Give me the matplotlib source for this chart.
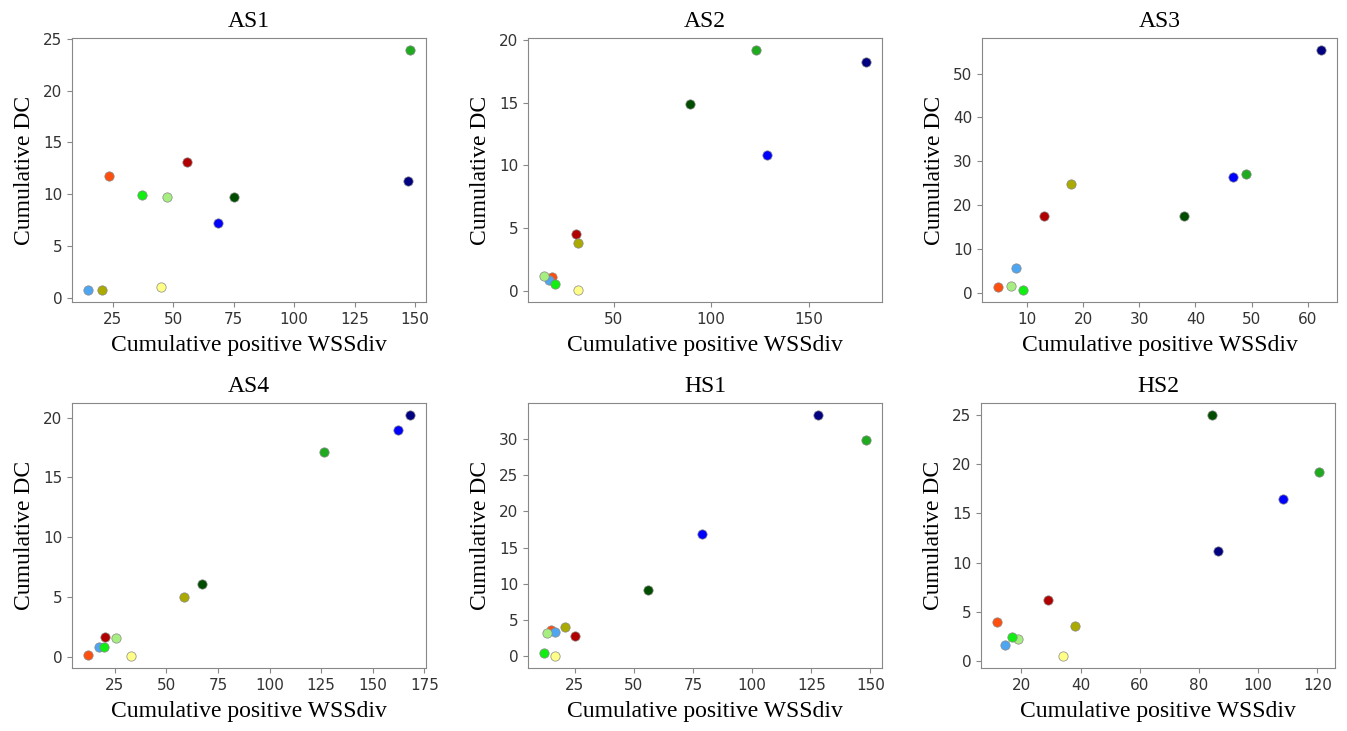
import numpy as np
import matplotlib
matplotlib.use("Agg")
import matplotlib.pyplot as plt

# one colour per case, same order in every panel
series_names = ["orange", "darkred", "olive", "paleyellow", "lightblue",
                "palegreen", "lime", "blue", "darkgreen", "navy", "green"]
series_colors = ["#ff4f0f", "#b00000", "#aaaa00", "#ffff88", "#4ea6f2",
                 "#a6ee80", "#11ee11", "#0000ff", "#004d00", "#000080", "#1faa1f"]

panel_titles = ["AS1", "AS2", "AS3", "AS4", "HS1", "HS2"]

# cumulative positive WSSdiv per case
wss_as1 = [23.5, 55.5, 20.4, 44.9, 14.8, 47.4, 36.9, 68.6, 75.3, 146.9, 147.8]
wss_as2 = [18.1, 30.7, 31.6, 31.9, 16.9, 14.3, 19.8, 128.8, 89.3, 179.3, 122.9]
wss_as3 = [4.9, 13.0, 17.9, np.nan, 8.1, 7.2, 9.4, 46.6, 38.0, 62.3, 48.9]
wss_as4 = [12.1, 20.5, 58.7, 33.1, 17.2, 25.8, 19.7, 162.4, 67.2, 168.0, 126.6]
wss_hs1 = [14.9, 25.0, 21.0, 16.7, 16.7, 13.1, 12.0, 78.6, 55.9, 127.7, 148.1]
wss_hs2 = [11.8, 29.1, 38.1, 34.2, 14.4, 18.75, 16.9, 108.4, 84.5, 86.5, 120.5]

# cumulative DC per case
dc_as1 = [11.74, 13.16, 0.8, 1.13, 0.8, 9.77, 9.97, 7.29, 9.77, 11.26, 23.9]
dc_as2 = [1.13, 4.54, 3.79, 0.08, 0.86, 1.21, 0.59, 10.85, 14.87, 18.26, 19.19]
dc_as3 = [1.3, 17.5, 24.9, np.nan, 5.6, 1.6, 0.6, 26.5, 17.5, 55.4, 27.1]
dc_as4 = [0.17, 1.63, 5.04, 0.08, 0.79, 1.58, 0.87, 18.93, 6.13, 20.22, 17.16]
dc_hs1 = [3.7, 2.8, 4.1, 0.05, 3.38, 3.24, 0.46, 16.85, 9.17, 33.29, 29.9]
dc_hs2 = [3.94, 6.24, 3.6, 0.51, 1.58, 2.26, 2.47, 16.46, 25.0, 11.15, 19.24]

wss_all = [wss_as1, wss_as2, wss_as3, wss_as4, wss_hs1, wss_hs2]
dc_all = [dc_as1, dc_as2, dc_as3, dc_as4, dc_hs1, dc_hs2]

plt.rcParams['font.family'] = ['DejaVu Sans']

W, H = 1347, 731
fig = plt.figure(figsize=(W / 100, H / 100), dpi=100)

# axes boxes in pixels: left, top, right, bottom
boxes = [(72, 38, 426, 302), (528, 38, 882, 302), (982, 38, 1337, 302),
         (72, 403, 426, 668), (528, 403, 882, 668), (981, 403, 1335, 668)]

serif = "Liberation Serif"

for i, (l, t, r, b) in enumerate(boxes):
    ax = fig.add_axes([l / W, (H - b) / H, (r - l) / W, (b - t) / H])
    for x, y, c in zip(wss_all[i], dc_all[i], series_colors):
        ax.scatter(x, y, s=45, color=c, edgecolors="#888888", linewidths=0.5, zorder=3)
    ax.set_title(panel_titles[i], fontsize=17, family=serif, pad=8)
    ax.set_xlabel("Cumulative positive WSSdiv", fontsize=17, family=serif, labelpad=6)
    ax.set_ylabel("Cumulative DC", fontsize=17, family=serif, labelpad=6)
    ax.tick_params(labelsize=11, colors="#888888", labelcolor="#333333")
    for sp in ax.spines.values():
        sp.set_color("#888888")

fig.savefig("out.png", dpi=100)
